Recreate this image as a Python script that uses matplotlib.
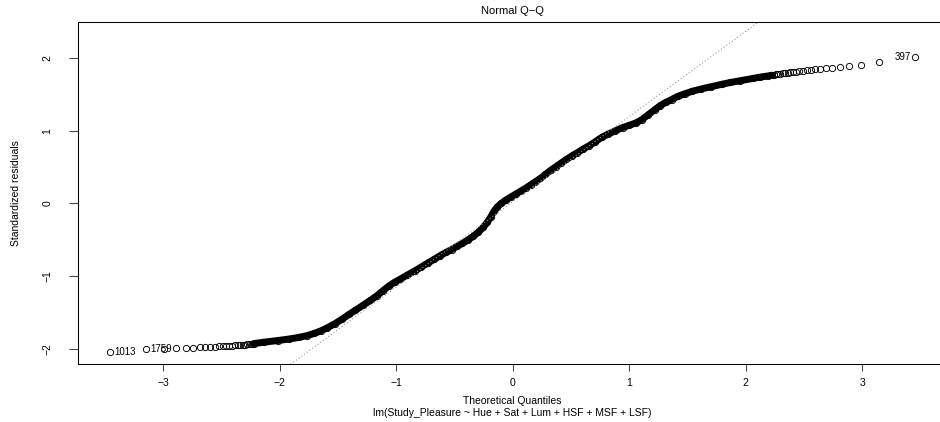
import matplotlib
matplotlib.use("Agg")
import matplotlib.pyplot as plt
import numpy as np
from statistics import NormalDist

plt.rcParams['font.family'] = ['Liberation Sans', 'DejaVu Sans']

# residuals of lm(Study_Pleasure ~ ...), n = 1800
n_obs = 1800

# order statistic (rank) and standardized residual
ranks = [1, 2, 3, 4, 5, 6, 7, 8, 9, 10, 11, 12, 13, 14, 15, 16, 17, 18, 19, 20,
         21, 22, 23, 24,
         30, 40, 50, 60, 70, 80, 90, 100, 115, 130, 145, 160, 180, 200, 220, 240,
         260, 280, 300, 330, 360, 390, 420, 450, 480, 510, 540, 570, 600, 630,
         660, 690, 720, 745, 765, 785, 805, 830, 860, 890, 920, 950, 980, 1010,
         1040, 1070, 1100, 1130, 1160, 1190, 1220, 1250, 1280, 1310, 1340, 1370,
         1400, 1430, 1460, 1490, 1515, 1540, 1560, 1580, 1600, 1615, 1630, 1645,
         1660, 1675, 1690, 1705, 1720, 1735, 1745, 1755, 1765, 1770, 1775,
         1777, 1778, 1779, 1780, 1781, 1782, 1783, 1784, 1785, 1786, 1787, 1788,
         1789, 1790, 1791, 1792, 1793, 1794, 1795, 1796, 1797, 1798, 1799, 1800]
std_resid = [-2.040, -2.010, -2.000, -1.995, -1.990, -1.986, -1.983, -1.979,
             -1.976, -1.972, -1.969, -1.967, -1.963, -1.960, -1.958, -1.954,
             -1.951, -1.949, -1.945, -1.942, -1.940, -1.936, -1.933, -1.930,
             -1.910, -1.887, -1.866, -1.845, -1.820, -1.790, -1.755, -1.715,
             -1.655, -1.590, -1.525, -1.470, -1.400, -1.335, -1.270, -1.200,
             -1.135, -1.085, -1.045, -0.985, -0.930, -0.875, -0.820, -0.770,
             -0.720, -0.675, -0.635, -0.590, -0.550, -0.505, -0.455, -0.400,
             -0.330, -0.260, -0.190, -0.110, -0.050, 0.000, 0.050, 0.090,
             0.130, 0.170, 0.210, 0.255, 0.300, 0.345, 0.400, 0.455, 0.505,
             0.555, 0.605, 0.655, 0.700, 0.750, 0.795, 0.850, 0.910, 0.955,
             1.000, 1.045, 1.075, 1.110, 1.155, 1.220, 1.290, 1.345, 1.390,
             1.430, 1.475, 1.510, 1.545, 1.575, 1.605, 1.640, 1.665, 1.690,
             1.720, 1.738, 1.755,
             1.765, 1.770, 1.775, 1.780, 1.785, 1.790, 1.795, 1.800, 1.805,
             1.810, 1.815, 1.820, 1.827, 1.834, 1.841, 1.848, 1.855, 1.862,
             1.870, 1.880, 1.890, 1.905, 1.945, 2.015]

# the three most extreme points, labelled with their observation number
id_ranks = [1, 2, 1800]
id_labels = ["1013", "1759", "397"]

nd = NormalDist()
ranks = np.array(ranks)
y = np.array(std_resid)
x = np.array([nd.inv_cdf((r - 0.5) / n_obs) for r in ranks])

# limits the way plot.lm does it
ylim = [y.min(), y.max()]
ylim[1] += (ylim[1] - ylim[0]) * 0.075
dy = (ylim[1] - ylim[0]) * 0.04
dx = (x.max() - x.min()) * 0.04

fig = plt.figure(figsize=(9.4, 4.22), dpi=100)
ax = fig.add_axes([78.3 / 940, 1 - 364.3 / 422, 868.8 / 940, 342.0 / 422])

# dense middle part: points overlap into a solid band
band = (ranks >= 24) & (ranks <= 1777)
ax.plot(x[band], y[band], '-', color='black', lw=5.0, solid_capstyle='round')
ax.plot(x, y, 'o', mfc='none', mec='black', ms=4.5, mew=0.65)

# qqline through the quartiles
q = np.interp([0.25 * (n_obs - 1) + 1, 0.75 * (n_obs - 1) + 1], ranks, y)
xq = [nd.inv_cdf(0.25), nd.inv_cdf(0.75)]
slope = (q[1] - q[0]) / (xq[1] - xq[0])
icpt = q[0] - slope * xq[0]
ax.axline((0, icpt), slope=slope, color='0.6', lw=0.8, ls=(0, (1, 2)))

for r, lab in zip(id_ranks, id_labels):
    i = int(np.where(ranks == r)[0][0])
    if x[i] < 0:
        ax.annotate(lab, (x[i], y[i]), xytext=(2.8, 0), textcoords='offset points',
                    ha='left', va='center', fontsize=7)
    else:
        ax.annotate(lab, (x[i], y[i]), xytext=(-2.8, 0), textcoords='offset points',
                    ha='right', va='center', fontsize=7)

ax.set_xlim(x.min() - dx, x.max() + dx)
ax.set_ylim(ylim[0] - dy, ylim[1] + dy)
ax.set_xticks([-3, -2, -1, 0, 1, 2, 3])
ax.set_yticks([-2, -1, 0, 1, 2])
ax.tick_params(axis='x', length=5, width=0.75, color='0.25', labelsize=7.5, pad=5)
ax.tick_params(axis='y', length=6.5, width=0.75, color='0.25', labelsize=7.5, pad=12)
for t in ax.get_yticklabels():
    t.set_rotation(90)
    t.set_va('center')
for s in ax.spines.values():
    s.set_linewidth(0.75)

ax.set_title("Normal Q\u2212Q", fontsize=8, pad=6)
fig.text(16 / 940, 1 - 193 / 422, "Standardized residuals", rotation=90,
         ha='center', va='center', fontsize=7.5)
fig.text(512.7 / 940, 1 - 401 / 422, "Theoretical Quantiles",
         ha='center', va='center', fontsize=7.5)
fig.text(512.7 / 940, 1 - 413 / 422,
         "lm(Study_Pleasure ~ Hue + Sat + Lum + HSF + MSF + LSF)",
         ha='center', va='center', fontsize=7.5)

fig.savefig("out.png", dpi=100)
